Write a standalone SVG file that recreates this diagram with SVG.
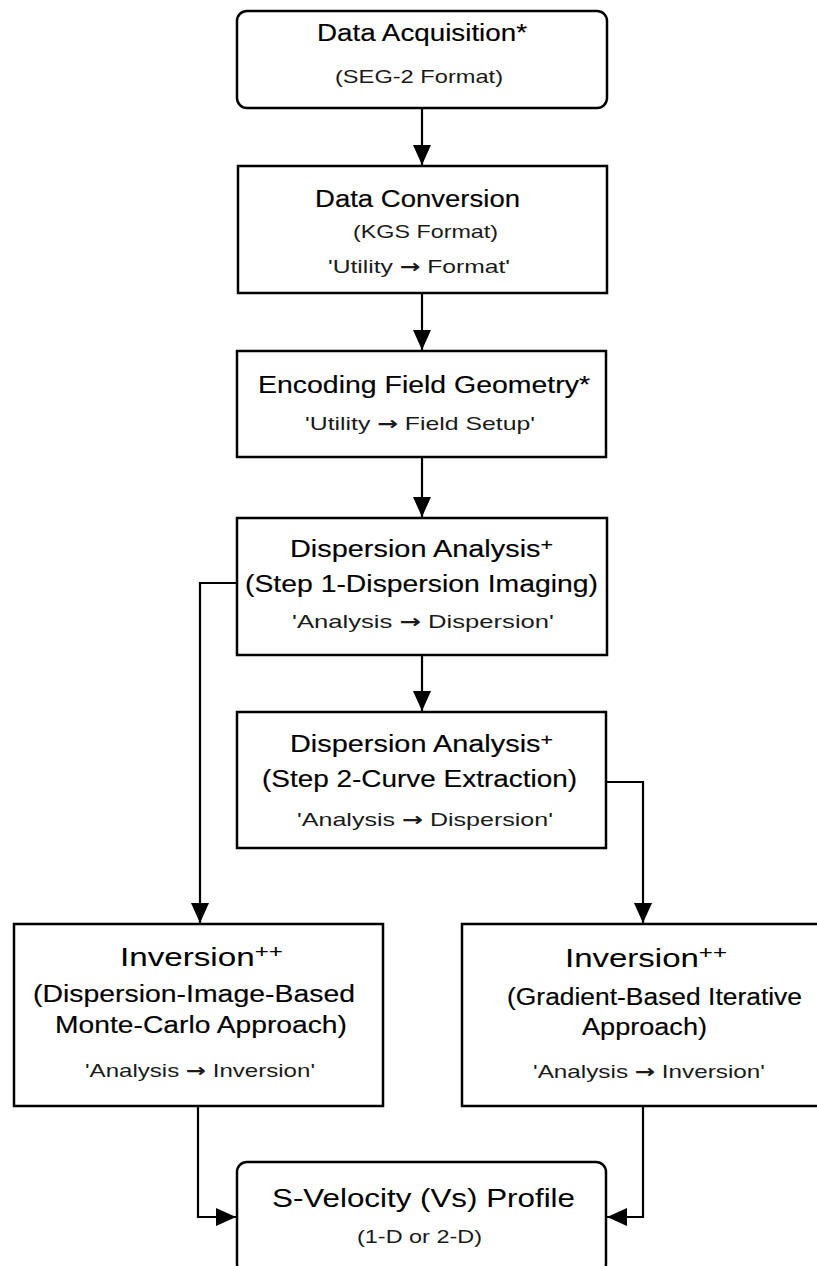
<svg xmlns="http://www.w3.org/2000/svg" width="817" height="1266" viewBox="0 0 817 1266">
<style>
.box{fill:#fff;stroke:#000;stroke-width:2.5}
.con{fill:none;stroke:#000;stroke-width:2.2}
.t{font-family:"Liberation Sans",Arial,sans-serif;fill:#000;stroke:#000;stroke-width:0.15;font-size:23px}
.big{font-size:26px;stroke-width:0.05}
.s{font-family:"Liberation Sans",Arial,sans-serif;fill:#1a1a1a;font-size:19px}
.ar{font-family:"DejaVu Sans",sans-serif;font-weight:bold}
</style>
<defs>
<marker id="ah" viewBox="0 0 20 18" refX="20" refY="9" markerWidth="20" markerHeight="18" markerUnits="userSpaceOnUse" orient="auto">
<path d="M0,0 L20,9 L0,18 z" fill="#000"/>
</marker>
</defs>
<rect width="817" height="1266" fill="#fff"/>
<g id="connectors">
<path class="con" d="M422,109 V165" marker-end="url(#ah)"/>
<path class="con" d="M422,293 V350" marker-end="url(#ah)"/>
<path class="con" d="M422,457 V517" marker-end="url(#ah)"/>
<path class="con" d="M422,655 V711" marker-end="url(#ah)"/>
<path class="con" d="M237,583 H200 V923" marker-end="url(#ah)"/>
<path class="con" d="M606,782 H643 V923" marker-end="url(#ah)"/>
<path class="con" d="M198,1106 V1217 H236" marker-end="url(#ah)"/>
<path class="con" d="M643,1106 V1217 H607" marker-end="url(#ah)"/>
</g>
<g id="acquisition">
<rect class="box" x="237" y="11" width="370" height="97" rx="10"/>
<text class="t" x="317" y="41" textLength="210" lengthAdjust="spacingAndGlyphs">Data Acquisition*</text>
<text class="s" x="335" y="83" textLength="168" lengthAdjust="spacingAndGlyphs">(SEG-2 Format)</text>
</g>
<g id="conversion">
<rect class="box" x="238" y="166" width="369" height="127"/>
<text class="t" x="315" y="207" textLength="205" lengthAdjust="spacingAndGlyphs">Data Conversion</text>
<text class="s" x="353" y="238" textLength="145" lengthAdjust="spacingAndGlyphs">(KGS Format)</text>
<text class="s" x="328" y="273" textLength="182" lengthAdjust="spacingAndGlyphs">'Utility <tspan class="ar">→</tspan> Format'</text>
</g>
<g id="geometry">
<rect class="box" x="237" y="351" width="369" height="106"/>
<text class="t" x="258" y="393" textLength="332" lengthAdjust="spacingAndGlyphs">Encoding Field Geometry*</text>
<text class="s" x="305" y="430" textLength="230" lengthAdjust="spacingAndGlyphs">'Utility <tspan class="ar">→</tspan> Field Setup'</text>
</g>
<g id="dispersion1">
<rect class="box" x="237" y="518" width="370" height="137"/>
<text class="t" x="290" y="557" textLength="263" lengthAdjust="spacingAndGlyphs">Dispersion Analysis<tspan font-size="17" dy="-7">+</tspan></text>
<text class="t" x="245" y="592" textLength="353" lengthAdjust="spacingAndGlyphs">(Step 1-Dispersion Imaging)</text>
<text class="s" x="292" y="628" textLength="262" lengthAdjust="spacingAndGlyphs">'Analysis <tspan class="ar">→</tspan> Dispersion'</text>
</g>
<g id="dispersion2">
<rect class="box" x="237" y="712" width="369" height="136"/>
<text class="t" x="290" y="752" textLength="263" lengthAdjust="spacingAndGlyphs">Dispersion Analysis<tspan font-size="17" dy="-7">+</tspan></text>
<text class="t" x="262" y="787" textLength="315" lengthAdjust="spacingAndGlyphs">(Step 2-Curve Extraction)</text>
<text class="s" x="297" y="826" textLength="256" lengthAdjust="spacingAndGlyphs">'Analysis <tspan class="ar">→</tspan> Dispersion'</text>
</g>
<g id="inversion-mc">
<rect class="box" x="14" y="924" width="369" height="182"/>
<text class="t big" x="120" y="966" textLength="163" lengthAdjust="spacingAndGlyphs">Inversion<tspan font-size="19" dy="-8">++</tspan></text>
<text class="t" x="33" y="1002" textLength="322" lengthAdjust="spacingAndGlyphs">(Dispersion-Image-Based</text>
<text class="t" x="55" y="1033" textLength="292" lengthAdjust="spacingAndGlyphs">Monte-Carlo Approach)</text>
<text class="s" x="85" y="1077" textLength="230" lengthAdjust="spacingAndGlyphs">'Analysis <tspan class="ar">→</tspan> Inversion'</text>
</g>
<g id="inversion-grad">
<rect class="box" x="462" y="924" width="369" height="182"/>
<text class="t big" x="565" y="967" textLength="162" lengthAdjust="spacingAndGlyphs">Inversion<tspan font-size="19" dy="-8">++</tspan></text>
<text class="t" x="507" y="1005" textLength="295" lengthAdjust="spacingAndGlyphs">(Gradient-Based Iterative</text>
<text class="t" x="582" y="1035" textLength="125" lengthAdjust="spacingAndGlyphs">Approach)</text>
<text class="s" x="533" y="1078" textLength="232" lengthAdjust="spacingAndGlyphs">'Analysis <tspan class="ar">→</tspan> Inversion'</text>
</g>
<g id="profile">
<rect class="box" x="237" y="1162" width="369" height="112" rx="10"/>
<text class="t big" x="272" y="1207" textLength="303" lengthAdjust="spacingAndGlyphs">S-Velocity (Vs) Profile</text>
<text class="s" x="357" y="1243" textLength="125" lengthAdjust="spacingAndGlyphs">(1-D or 2-D)</text>
</g>
</svg>
